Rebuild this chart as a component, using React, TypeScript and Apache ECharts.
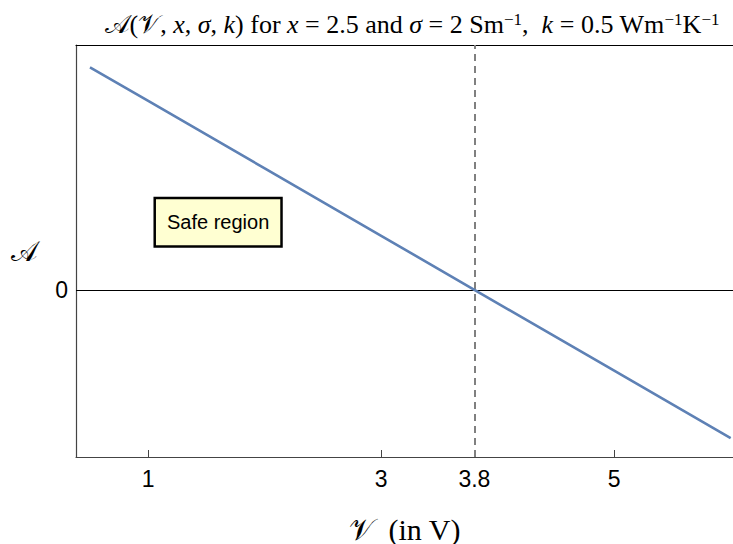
import React, { useEffect, useRef } from "react";
import * as echarts from "echarts";

const vValues = [0.5, 1, 2, 3, 3.8, 5, 6.0];
const aValues = [3.3, 2.8, 1.8, 0.8, 0, -1.2, -2.2];
const xTicks = [1, 3, 3.8, 5];
const yTicks = [0];
const thresholdV = 3.8;
const annotation = { v: 1.6, a: 1.0, text: "Safe region" };

const SERIF = "'Liberation Serif', 'DejaVu Serif', serif";
const SANS = "'Liberation Sans', Arial, sans-serif";

export default function App() {
  const ref = useRef<HTMLDivElement>(null);
  useEffect(() => {
    if (!ref.current) return;
    const chart = echarts.init(ref.current, null, { renderer: "svg" });
    const data = vValues.map((v, i) => [v, aValues[i]]);
    chart.setOption({
      animation: false,
      backgroundColor: "#ffffff",
      title: {
        left: 407,
        textAlign: "center",
        top: 6,
        text:
          "{s|𝒜}(𝒱, {i|x}, {i|σ}, {i|k}) for {i|x} = 2.5 and {i|σ} = 2 Sm{sup|−1},  {i|k} = 0.5 Wm{sup|−1}K{sup|−1}",
        textStyle: {
          fontFamily: SERIF,
          fontSize: 26,
          fontWeight: "normal",
          color: "#000",
          rich: {
            s: { fontFamily: SERIF, fontSize: 26, color: "#000" },
            i: { fontFamily: SERIF, fontSize: 26, fontStyle: "italic", color: "#000" },
            sup: { fontFamily: SERIF, fontSize: 17, color: "#000", verticalAlign: "top", padding: [0, 0, 10, 0] },
          },
        },
      },
      grid: { left: 76, top: 45, right: 0, bottom: 87, containLabel: false, outerBoundsMode: "none" },
      xAxis: [
        {
          type: "value",
          min: 0.38,
          max: 6.02,
          position: "bottom",
          name: "𝒱  (in V)",
          nameLocation: "middle",
          nameGap: 57,
          nameTextStyle: { fontFamily: SERIF, fontSize: 30, color: "#000" },
          axisLine: { show: true, onZero: false, lineStyle: { color: "#444", width: 1.2 } },
          axisTick: { show: true, inside: true, length: 7, customValues: xTicks, lineStyle: { color: "#444" } },
          axisLabel: {
            show: true,
            customValues: xTicks,
            fontFamily: SANS,
            fontSize: 23,
            color: "#000",
            margin: 10,
          },
          splitLine: { show: false },
        },
        {
          type: "value",
          min: 0.38,
          max: 6.02,
          position: "top",
          axisLine: { show: true, onZero: false, lineStyle: { color: "#000", width: 1.2 } },
          axisTick: { show: false },
          axisLabel: { show: false },
          splitLine: { show: false },
        },
      ],
      yAxis: {
        type: "value",
        min: -2.48,
        max: 3.63,
        name: "𝒜",
        nameLocation: "middle",
        nameRotate: 0,
        nameGap: 39,
        nameTextStyle: { fontFamily: SERIF, fontSize: 28, color: "#000" },
        axisLine: { show: true, onZero: false, lineStyle: { color: "#444", width: 1.2 } },
        axisTick: { show: false },
        axisLabel: {
          show: true,
          customValues: yTicks,
          fontFamily: SANS,
          fontSize: 23,
          color: "#000",
          margin: 8,
        },
        splitLine: { show: false },
      },
      series: [
        {
          type: "line",
          data,
          xAxisIndex: 0,
          showSymbol: false,
          symbol: "none",
          lineStyle: { color: "#5e81b5", width: 2.6 },
          z: 5,
          markLine: {
            silent: true,
            symbol: "none",
            label: { show: false },
            data: [
              { yAxis: 0, lineStyle: { color: "#000", width: 1, type: "solid" } },
              { xAxis: thresholdV, lineStyle: { color: "#808080", width: 2, type: [7, 5] } },
            ],
          },
          markPoint: {
            silent: true,
            symbol: "rect",
            symbolSize: 1,
            itemStyle: { color: "rgba(0,0,0,0)" },
            data: [
              {
                coord: [annotation.v, annotation.a],
                label: {
                  show: true,
                  position: "inside",
                  formatter: annotation.text,
                  fontFamily: SANS,
                  fontSize: 20,
                  color: "#000",
                  backgroundColor: "#ffffd2",
                  borderColor: "#000",
                  borderWidth: 2.5,
                  padding: [13, 11],
                },
              },
            ],
          },
        },
      ],
    });
    return () => chart.dispose();
  }, []);
  return (
    <div
      ref={ref}
      style={{ position: "fixed", left: 0, top: 0, width: 733, height: 544 }}
    />
  );
}
